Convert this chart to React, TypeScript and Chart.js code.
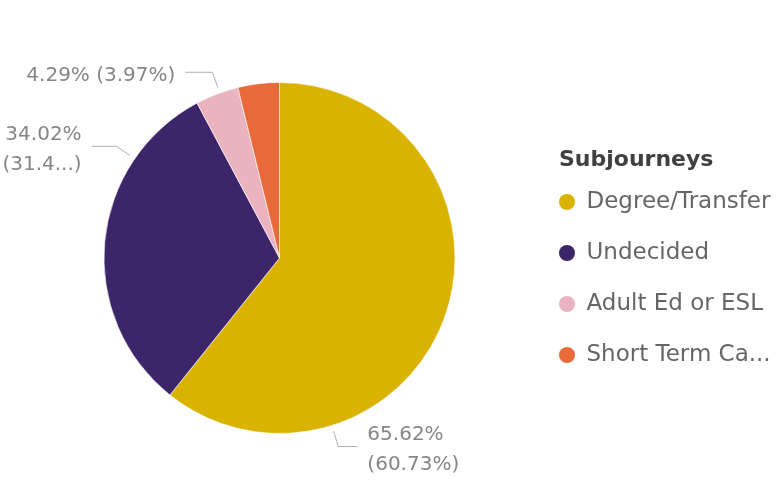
import React, { useEffect, useRef } from 'react';
import { Chart, registerables } from 'chart.js';

Chart.register(...registerables);

const categories = ['Degree/Transfer', 'Undecided', 'Adult Ed or ESL', 'Short Term Ca...'];
const values = [65.62, 34.02, 4.29, 4.12];
const colors = ['#D9B300', '#3D2569', '#EBB3C0', '#E8693A'];
const labelShown = [true, true, true, false];
const labelTwoLines = [true, true, false, false];
const legendTitle = 'Subjourneys';

const FONT = "'DejaVu Sans', 'Open Sans', sans-serif";

// leader-line geometry (presentation only)
const anchorFrac = [0.744, 0.757, 0.57, 0.5];
const legLen = [19, 25, 27, 20];

const pieLabels = {
  id: 'pieLabels',
  afterDatasetsDraw(chart: any) {
    const ctx = chart.ctx as CanvasRenderingContext2D;
    const meta = chart.getDatasetMeta(0);
    const data = chart.data.datasets[0].data as number[];
    const total = data.reduce((a, b) => a + b, 0);
    ctx.save();
    ctx.font = `20px ${FONT}`;
    ctx.textBaseline = 'middle';
    meta.data.forEach((arc: any, i: number) => {
      if (!labelShown[i]) return;
      const p = arc.getProps(['x', 'y', 'startAngle', 'endAngle', 'outerRadius'], true);
      const a = p.startAngle + (p.endAngle - p.startAngle) * anchorFrac[i];
      const cos = Math.cos(a);
      const sin = Math.sin(a);
      const x0 = p.x + cos * (p.outerRadius + 6);
      const y0 = p.y + sin * (p.outerRadius + 6);
      const x1 = p.x + cos * (p.outerRadius + 22);
      const y1 = p.y + sin * (p.outerRadius + 22);
      const dir = cos >= 0 ? 1 : -1;
      const x2 = x1 + dir * legLen[i];
      ctx.strokeStyle = '#b0b0b0';
      ctx.lineWidth = 1;
      ctx.beginPath();
      ctx.moveTo(x0, y0);
      ctx.lineTo(x1, y1);
      ctx.lineTo(x2, y1);
      ctx.stroke();

      const tx = x2 + dir * 10;
      const avail = dir > 0 ? chart.width - tx : tx;
      const fit = (inner: string, wrap: boolean) => {
        const make = (s: string) => (wrap ? `(${s})` : s);
        if (ctx.measureText(make(inner)).width <= avail) return make(inner);
        let s = inner;
        while (s.length > 1 && ctx.measureText(make(s + '...')).width > avail) s = s.slice(0, -1);
        return make(s + '...');
      };
      const valText = data[i].toFixed(2) + '%';
      const shareText = ((data[i] / total) * 100).toFixed(2) + '%';
      ctx.fillStyle = '#868686';
      ctx.textAlign = dir > 0 ? 'left' : 'right';
      if (labelTwoLines[i]) {
        ctx.fillText(fit(valText, false), tx, y1 - 12);
        ctx.fillText(fit(shareText, true), tx, y1 + 18);
      } else {
        ctx.fillText(fit(`${valText} (${shareText})`, false), tx, y1 + 4);
      }
    });
    ctx.restore();
  },
};

export default function App() {
  const ref = useRef<HTMLCanvasElement | null>(null);
  useEffect(() => {
    if (!ref.current) return;
    const ov: any = (Chart as any).overrides;
    const baseGen = (ov.pie && ov.pie.plugins && ov.pie.plugins.legend && ov.pie.plugins.legend.labels.generateLabels) ||
      ov.doughnut.plugins.legend.labels.generateLabels;
    const chart = new Chart(ref.current, {
      type: 'pie',
      data: {
        labels: categories,
        datasets: [
          {
            data: values,
            backgroundColor: colors,
            borderColor: 'rgba(255,255,255,0.6)',
            borderWidth: 1,
          },
        ],
      },
      options: {
        animation: false,
        responsive: true,
        maintainAspectRatio: false,
        events: [],
        layout: { padding: { top: 82, bottom: 49, left: 0, right: 0 } },
        plugins: {
          tooltip: { enabled: false },
          legend: {
            display: true,
            position: 'right',
            align: 'center',
            maxWidth: 218,
            title: {
              display: true,
              text: legendTitle,
              position: 'start',
              color: '#404040',
              font: { family: FONT, size: 22, weight: 'bold' },
              padding: { top: 27.5, bottom: 15.1 },
            },
            labels: {
              usePointStyle: true,
              pointStyle: 'circle',
              pointStyleWidth: 16,
              boxHeight: 11.3,
              padding: 0,
              color: '#666666',
              font: { family: FONT, size: 23, lineHeight: 51 / 23 },
              generateLabels: (c: any) =>
                baseGen(c).map((it: any) => ({ ...it, text: [it.text], lineWidth: 0 })),
            },
          },
        },
      } as any,
      plugins: [pieLabels],
    });
    return () => chart.destroy();
  }, []);
  return (
    <div style={{ position: 'fixed', left: 0, top: 0, width: 777, height: 483, background: '#fff' }}>
      <canvas ref={ref} />
    </div>
  );
}
